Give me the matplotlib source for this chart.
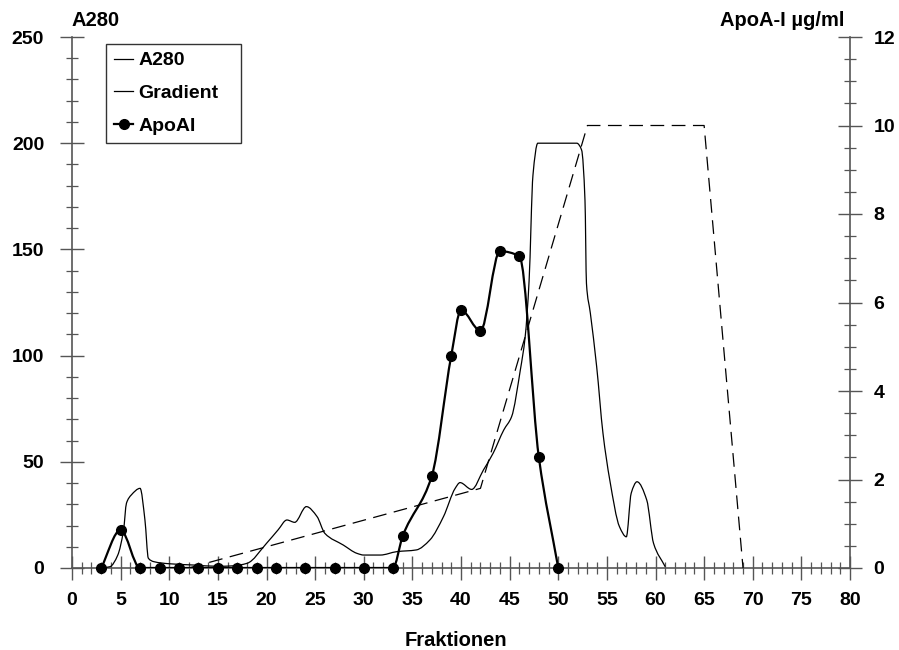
import numpy as np
import matplotlib
matplotlib.use("Agg")
import matplotlib.pyplot as plt
from matplotlib.path import Path
from matplotlib.patches import PathPatch
from matplotlib.lines import Line2D
from matplotlib.ticker import MultipleLocator

plt.rcParams['font.family'] = ['Liberation Sans', 'DejaVu Sans']
plt.rcParams['font.weight'] = 'bold'

# ---- data ----
a280_x = [3.0, 3.9, 4.7, 5.3, 5.6, 6.1, 7.0, 7.5, 7.85, 8.4, 10.0, 12.5, 15.0, 16.5,
          18.0, 20.0, 21.2, 22.1, 22.9, 24.1, 25.2, 26.0, 27.9, 29.3, 30.0, 31.7,
          33.4, 35.4, 36.8, 38.2, 39.4, 39.9, 41.1, 42.3, 43.3, 44.4, 45.2, 46.1,
          46.6, 47.0, 47.4, 47.9, 51.9, 52.4, 52.75, 52.9, 53.3, 53.95, 54.6, 55.3,
          56.3, 57.0, 57.5, 58.1, 59.1, 59.8, 61.0]
a280_y = [0.0, 0.6, 6.0, 17.9, 30.5, 34.4, 37.5, 22.6, 4.6, 3.0, 2.0, 1.4, 0.8, 1.0,
          2.2, 11.6, 18.0, 22.6, 21.5, 28.9, 24.2, 16.3, 10.8, 6.9, 6.1, 6.1,
          7.7, 8.5, 13.2, 24.2, 37.5, 40.2, 37.0, 46.1, 54.0, 65.0, 71.2, 93.2,
          108.9, 135.0, 185.0, 200.0, 200.0, 196.8, 173.0, 134.0, 120.0, 94.8, 63.4, 41.4,
          19.4, 14.7, 35.2, 40.6, 32.0, 11.6, 0.6]

gradient_x = [12, 42, 53, 65, 69]
gradient_y = [0.0, 1.8, 10.0, 10.0, 0.0]

apo_x = [3, 5, 7, 9, 11, 13, 15, 17, 19, 21, 24, 27, 30, 33, 34, 37, 39, 40, 42, 44, 46, 48, 50]
apo_y = [0, 0.86, 0, 0, 0, 0, 0, 0, 0, 0, 0, 0, 0, 0, 0.72, 2.08, 4.80, 5.83, 5.36, 7.16, 7.05, 2.51, 0]

x_ticks = list(range(0, 81, 5))
left_ticks = [0, 50, 100, 150, 200, 250]
right_ticks = [0, 2, 4, 6, 8, 10, 12]


def smooth_path(xs, ys):
    """Monotone cubic (PCHIP-style) Bezier path through the given points."""
    xs = np.asarray(xs, float)
    ys = np.asarray(ys, float)
    n = len(xs)
    d = np.diff(ys) / np.diff(xs)
    m = np.zeros(n)
    m[0] = d[0]
    m[-1] = d[-1]
    for i in range(1, n - 1):
        if d[i - 1] * d[i] <= 0:
            m[i] = 0.0
        else:
            w1 = 2 * (xs[i + 1] - xs[i]) + (xs[i] - xs[i - 1])
            w2 = (xs[i + 1] - xs[i]) + 2 * (xs[i] - xs[i - 1])
            m[i] = (w1 + w2) / (w1 / d[i - 1] + w2 / d[i])
    verts = [(xs[0], ys[0])]
    codes = [Path.MOVETO]
    for i in range(n - 1):
        h = xs[i + 1] - xs[i]
        verts += [(xs[i] + h / 3, ys[i] + m[i] * h / 3),
                  (xs[i + 1] - h / 3, ys[i + 1] - m[i + 1] * h / 3),
                  (xs[i + 1], ys[i + 1])]
        codes += [Path.CURVE4] * 3
    return Path(verts, codes)


fig = plt.figure(figsize=(8.99, 6.5), dpi=100)
ax = fig.add_axes([72 / 899, 1 - 568 / 650, 778 / 899, 531 / 650])
ax2 = ax.twinx()

ax.set_xlim(0, 80)
ax.set_ylim(0, 250)
ax2.set_ylim(0, 12)

spine_col = '#555555'
for a in (ax, ax2):
    a.spines['top'].set_visible(False)
    for s in ('left', 'right', 'bottom'):
        a.spines[s].set_color(spine_col)
        a.spines[s].set_linewidth(1.2)
ax.spines['right'].set_visible(False)
ax2.spines['left'].set_visible(False)
ax2.spines['bottom'].set_visible(False)

ax.set_xticks(x_ticks)
ax.xaxis.set_minor_locator(MultipleLocator(1))
ax.set_yticks(left_ticks)
ax.yaxis.set_minor_locator(MultipleLocator(10))
ax2.set_yticks(right_ticks)
ax2.yaxis.set_minor_locator(MultipleLocator(0.5))

for a in (ax, ax2):
    a.tick_params(which='major', direction='inout', length=17, width=1.0,
                  color=spine_col, labelsize=14)
    a.tick_params(which='minor', direction='inout', length=8.5, width=0.9,
                  color=spine_col)
ax.tick_params(axis='x', which='major', pad=8.5)
ax.tick_params(axis='y', which='major', pad=11.5)
ax2.tick_params(axis='y', which='major', pad=8.5)
for lab in ax.get_xticklabels() + ax.get_yticklabels() + ax2.get_yticklabels():
    lab.set_fontweight('bold')

# A280 thin line
p1 = PathPatch(smooth_path(a280_x, a280_y), facecolor='none',
               edgecolor='black', linewidth=0.9, zorder=3)
ax.add_patch(p1)

# Gradient dashed line (right scale)
ax2.plot(gradient_x, gradient_y, color='black', linewidth=0.9,
         linestyle=(0, (11, 6)), zorder=2)

# ApoAI smoothed line with markers
p3 = PathPatch(smooth_path(apo_x, apo_y), facecolor='none', edgecolor='black',
               linewidth=1.6, zorder=4)
ax2.add_patch(p3)
ax2.plot(apo_x, apo_y, linestyle='none', marker='o', markersize=7,
         color='black', zorder=5, clip_on=False)

# legend
handles = [Line2D([], [], color='black', linewidth=0.9),
           Line2D([], [], color='black', linewidth=0.9),
           Line2D([], [], color='black', linewidth=1.6, marker='o', markersize=7)]
leg = ax2.legend(handles, ['A280', 'Gradient', 'ApoAI'], loc='upper left',
                 bbox_to_anchor=((106 - 72) / 778, (568 - 44) / 531, 135 / 778, 0.0),
                 mode='expand', borderaxespad=0, frameon=True, fancybox=False,
                 prop={'weight': 'bold', 'size': 14}, handlelength=1.0,
                 handletextpad=0.25, labelspacing=0.78, borderpad=0.4)
leg.get_frame().set_edgecolor('black')
leg.get_frame().set_linewidth(1.0)

fig.text(96 / 899, 1 - 26 / 650, 'A280', ha='center', va='baseline',
         fontsize=14.5, fontweight='bold')
fig.text(844 / 899, 1 - 26 / 650, 'ApoA-I µg/ml', ha='right', va='baseline',
         fontsize=14.5, fontweight='bold')
fig.text(456 / 899, 1 - 646 / 650, 'Fraktionen', ha='center', va='baseline',
         fontsize=14.5, fontweight='bold')

fig.savefig('out.png', dpi=100)
